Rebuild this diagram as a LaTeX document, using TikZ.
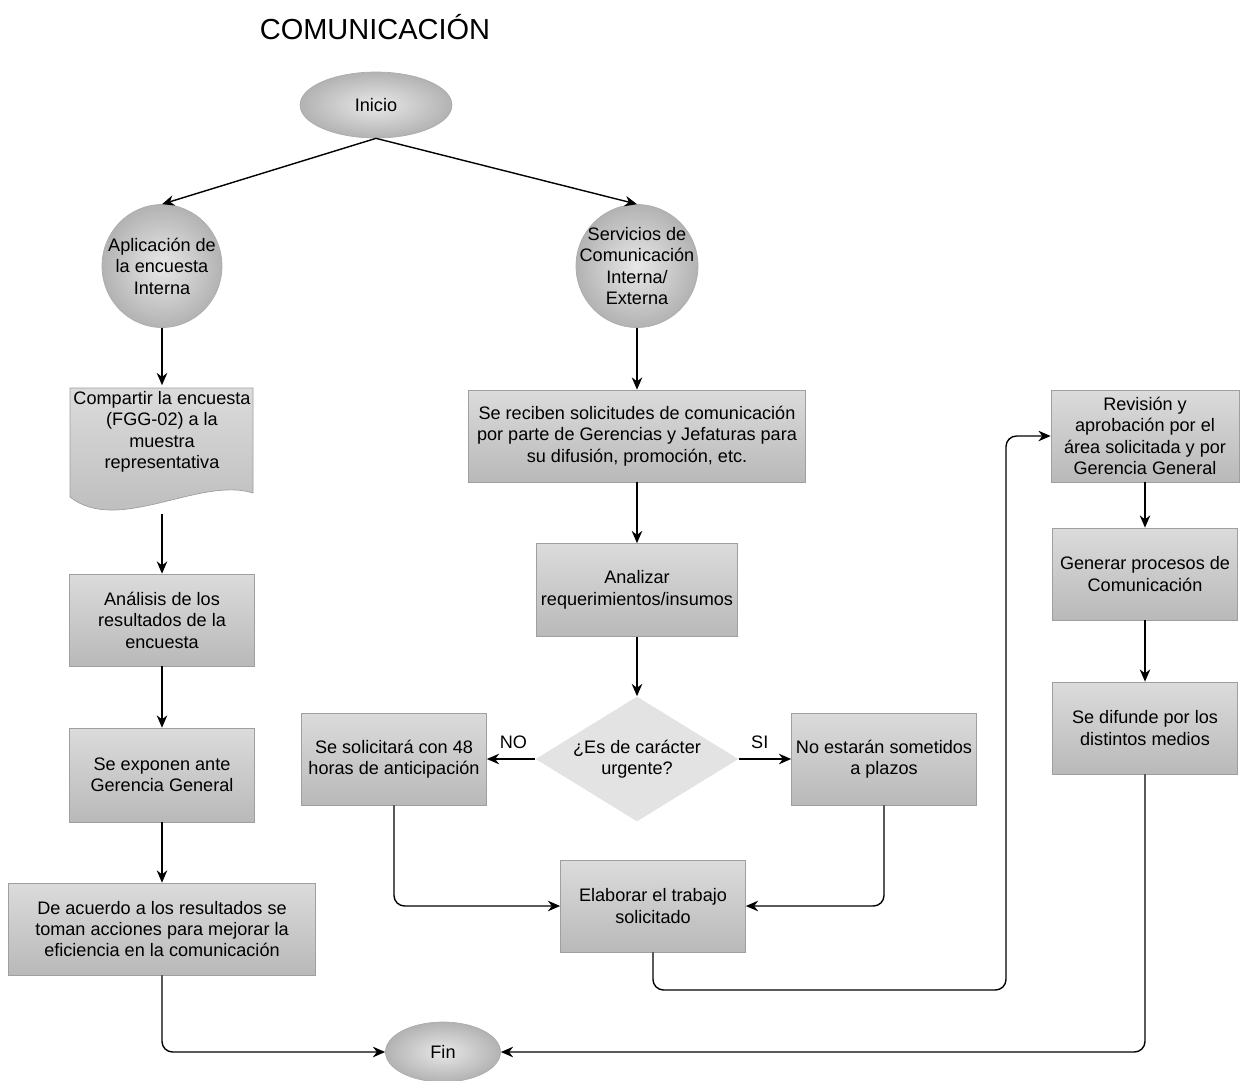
\documentclass[tikz,border=0pt]{standalone}
\usepackage{fontspec}
\setmainfont{Liberation Sans}
\usetikzlibrary{shapes.geometric, arrows.meta}

\begin{document}
\begin{tikzpicture}[x=0.02cm, y=-0.02cm,
    font=\fontsize{10.3}{12.2}\selectfont,
    caja/.style={rectangle, draw=gray!75, line width=0.4pt, top color=gray!28, bottom color=gray!55,
        minimum width=3.7cm, minimum height=1.84cm, align=center, inner sep=1pt},
    redondo/.style={ellipse, draw=gray!65, line width=0.4pt, inner color=gray!18, outer color=gray!60, inner sep=0pt},
    flecha/.style={-{Stealth[length=7pt,width=6pt]}, line width=0.8pt, rounded corners=6pt}]
\useasboundingbox (0,0) rectangle (1242,1080);

\node[font=\fontsize{16.5}{18}\selectfont] (titulo) at (375,27) {COMUNICACIÓN};

% Inicio y ramas
\node[redondo, minimum width=3.04cm, minimum height=1.32cm] (ini) at (376,105) {Inicio};
\node[redondo, minimum width=2.4cm, minimum height=2.46cm] (ap) at (162,266) {};
\node[align=center] at (ap) {Aplicación de\\la encuesta\\Interna};
\node[redondo, minimum width=2.44cm, minimum height=2.46cm] (sv) at (637,266) {};
\node[align=center] at (sv) {Servicios de\\Comunicación\\Interna/\\Externa};
\draw[flecha] (ini.south) -- (ap.north);
\draw[flecha] (ini.south) -- (sv.north);

% Columna izquierda
\path[draw=gray!75, line width=0.4pt, top color=gray!28, bottom color=gray!55]
    (70,388) -- (253,388) -- (253,493) .. controls (200,476) and (118,535) .. (70,497) -- cycle;
\node[align=center, minimum width=3.66cm, minimum height=1.76cm] (comp) at (162,432)
    {Compartir la encuesta\\(FGG-02) a la\\muestra\\representativa};
\coordinate (comp-pie) at (162,514);
\node[caja] (anal) at (162,620) {Análisis de los\\resultados de la\\encuesta};
\node[caja, minimum height=1.88cm] (expo) at (162,775) {Se exponen ante\\Gerencia General};
\node[caja, minimum width=6.14cm] (acue) at (162,929)
    {De acuerdo a los resultados se\\toman acciones para mejorar la\\eficiencia en la comunicación};

% Columna central
\node[caja, minimum width=6.74cm] (reci) at (637,436)
    {Se reciben solicitudes de comunicación\\por parte de Gerencias y Jefaturas para\\su difusión, promoción, etc.};
\node[caja, minimum width=4.02cm, minimum height=1.86cm] (anlz) at (637,590) {Analizar\\requerimientos/insumos};
\node[diamond, fill=gray!22, minimum width=4.06cm, minimum height=2.5cm, inner sep=0pt] (urg) at (637,759) {};
\node[align=center] at (urg) {¿Es de carácter\\urgente?};
\node[caja] (sol) at (394,759) {Se solicitará con 48\\horas de anticipación};
\node[caja] (noest) at (884,759) {No estarán sometidos\\a plazos};
\node[caja] (elab) at (653,906) {Elaborar el trabajo\\solicitado};

% Columna derecha
\node[caja, minimum width=3.76cm] (revi) at (1145,436)
    {Revisión y\\aprobación por el\\área solicitada y por\\Gerencia General};
\node[caja] (gene) at (1145,574) {Generar procesos de\\Comunicación};
\node[caja] (difu) at (1145,728) {Se difunde por los\\distintos medios};
\node[redondo, minimum width=2.3cm, minimum height=1.2cm] (fin) at (443,1052) {Fin};
\coordinate (giro) at (1006,990);

% Conectores
\draw[flecha] (ap) -- (comp);
\draw[flecha] (comp-pie) -- (anal);
\foreach \a/\b in {anal/expo, expo/acue, sv/reci, reci/anlz, anlz/urg, revi/gene, gene/difu}
    \draw[flecha] (\a) -- (\b);
\draw[flecha] (urg.west) -- node[above=2pt, pos=0.45] {NO} (sol.east);
\draw[flecha] (urg.east) -- node[above=2pt, pos=0.4] {SI} (noest.west);
\draw[flecha] (sol.south) |- (elab.west);
\draw[flecha] (noest.south) |- (elab.east);
\draw[flecha] (elab.south) |- (giro) |- (revi.west);
\draw[flecha] (acue.south) |- (fin.west);
\draw[flecha] (difu.south) |- (fin.east);
\end{tikzpicture}
\end{document}
